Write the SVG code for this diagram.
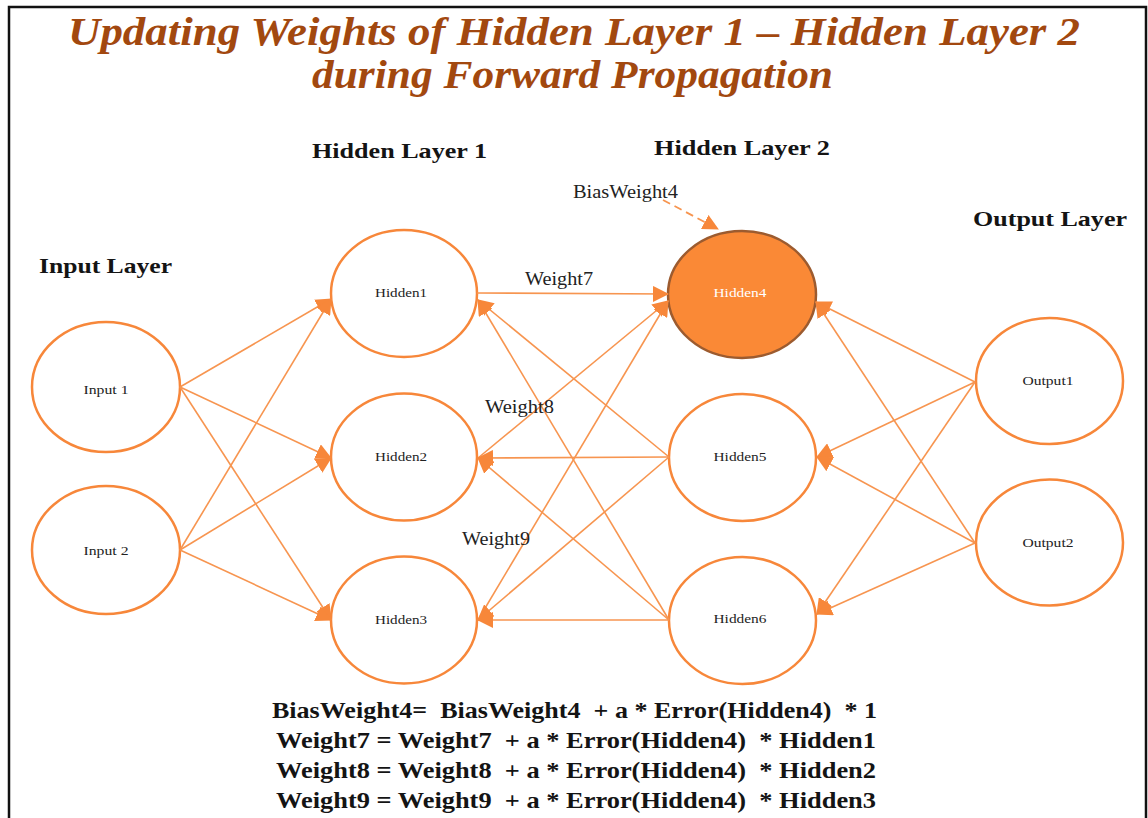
<svg xmlns="http://www.w3.org/2000/svg" width="1148" height="818" viewBox="0 0 1148 818">
<style>
.title{font-family:"Liberation Serif","DejaVu Serif",serif;font-weight:bold;font-style:italic;font-size:41px;fill:#A2480F}
.head{font-family:"Liberation Serif","DejaVu Serif",serif;font-weight:bold;font-size:22px;fill:#141414}
.wl{font-family:"Liberation Serif","DejaVu Serif",serif;font-size:18px;fill:#222}
.nl{font-family:"Liberation Serif","DejaVu Serif",serif;font-size:12.5px;fill:#222;text-anchor:middle}
.eq{font-family:"Liberation Serif","DejaVu Serif",serif;font-weight:bold;font-size:23px;fill:#141414}
.node{fill:#fff;stroke:#F7873A;stroke-width:2.5}
.hot{fill:#FA8936;stroke:#9C5B2F;stroke-width:2.5}
.c{stroke:#F79550;stroke-width:1.6;fill:none;marker-end:url(#ah)}
.d{stroke:#F79550;stroke-width:1.8;fill:none;stroke-dasharray:8 5;marker-end:url(#ah2)}
</style>
<defs>
<marker id="ah" markerUnits="userSpaceOnUse" markerWidth="16" markerHeight="16" refX="15" refY="8" orient="auto">
<path d="M0,0 L16,8 L0,16 z" fill="#F7873A"/>
</marker>
<marker id="ah2" markerUnits="userSpaceOnUse" markerWidth="16" markerHeight="16" refX="15" refY="8" orient="auto">
<path d="M0,0 L16,8 L0,16 z" fill="#F7873A"/>
</marker>
</defs>
<rect x="0" y="0" width="1148" height="818" fill="#fff"/>
<path d="M9,818 V7 H1146 V818" fill="none" stroke="#111" stroke-width="2.5"/>

<g id="title">
<text class="title" x="68" y="45" textLength="1012" lengthAdjust="spacingAndGlyphs">Updating Weights of Hidden Layer 1 – Hidden Layer 2</text>
<text class="title" x="312" y="88" textLength="521" lengthAdjust="spacingAndGlyphs">during Forward Propagation</text>
</g>

<g id="layer-labels">
<text class="head" x="39" y="273" textLength="133" lengthAdjust="spacingAndGlyphs">Input Layer</text>
<text class="head" x="312" y="158" textLength="175" lengthAdjust="spacingAndGlyphs">Hidden Layer 1</text>
<text class="head" x="654" y="155" textLength="176" lengthAdjust="spacingAndGlyphs">Hidden Layer 2</text>
<text class="head" x="973" y="226" textLength="154" lengthAdjust="spacingAndGlyphs">Output Layer</text>
</g>

<g id="input1"><ellipse class="node" cx="106" cy="387" rx="74" ry="65"/><text class="nl" x="106" y="394" textLength="45" lengthAdjust="spacingAndGlyphs">Input 1</text></g>
<g id="input2"><ellipse class="node" cx="106" cy="550" rx="74" ry="64"/><text class="nl" x="106" y="555" textLength="45" lengthAdjust="spacingAndGlyphs">Input 2</text></g>
<g id="hidden1"><ellipse class="node" cx="404" cy="293.5" rx="73" ry="63.5"/><text class="nl" x="401" y="297" textLength="52" lengthAdjust="spacingAndGlyphs">Hidden1</text></g>
<g id="hidden2"><ellipse class="node" cx="404" cy="457" rx="73" ry="63.5"/><text class="nl" x="401" y="461" textLength="52" lengthAdjust="spacingAndGlyphs">Hidden2</text></g>
<g id="hidden3"><ellipse class="node" cx="404" cy="620" rx="73" ry="63.5"/><text class="nl" x="401" y="624" textLength="52" lengthAdjust="spacingAndGlyphs">Hidden3</text></g>
<g id="hidden4"><ellipse class="hot" cx="742" cy="294.5" rx="74" ry="63.5"/><text class="nl" x="740" y="297" textLength="53" lengthAdjust="spacingAndGlyphs" style="fill:#fff">Hidden4</text></g>
<g id="hidden5"><ellipse class="node" cx="742.5" cy="457.5" rx="73.5" ry="63.5"/><text class="nl" x="740" y="461" textLength="53" lengthAdjust="spacingAndGlyphs">Hidden5</text></g>
<g id="hidden6"><ellipse class="node" cx="742.5" cy="620.5" rx="73.5" ry="63.5"/><text class="nl" x="740" y="623" textLength="53" lengthAdjust="spacingAndGlyphs">Hidden6</text></g>
<g id="output1"><ellipse class="node" cx="1049.5" cy="381" rx="73.5" ry="63"/><text class="nl" x="1048" y="385" textLength="51" lengthAdjust="spacingAndGlyphs">Output1</text></g>
<g id="output2"><ellipse class="node" cx="1049.5" cy="542.5" rx="73.5" ry="63"/><text class="nl" x="1048" y="547" textLength="51" lengthAdjust="spacingAndGlyphs">Output2</text></g>

<g id="connectors">
<line class="c" x1="180" y1="387" x2="331" y2="299"/>
<line class="c" x1="180" y1="387" x2="331" y2="458"/>
<line class="c" x1="180" y1="387" x2="331" y2="620"/>
<line class="c" x1="180" y1="550" x2="331" y2="299"/>
<line class="c" x1="180" y1="550" x2="331" y2="458"/>
<line class="c" x1="180" y1="550" x2="331" y2="620"/>

<line class="c" x1="477" y1="293" x2="668" y2="294"/>
<line class="c" x1="478" y1="458" x2="668" y2="301"/>
<line class="c" x1="478" y1="620" x2="668" y2="301"/>

<line class="c" x1="669" y1="457" x2="478" y2="300"/>
<line class="c" x1="669" y1="457" x2="478" y2="458"/>
<line class="c" x1="669" y1="457" x2="478" y2="620"/>
<line class="c" x1="669" y1="620" x2="478" y2="300"/>
<line class="c" x1="669" y1="620" x2="478" y2="458"/>
<line class="c" x1="669" y1="620" x2="478" y2="620"/>

<line class="c" x1="975" y1="382" x2="816" y2="302"/>
<line class="c" x1="975" y1="382" x2="817" y2="457"/>
<line class="c" x1="975" y1="382" x2="817" y2="614"/>
<line class="c" x1="975" y1="543" x2="816" y2="302"/>
<line class="c" x1="975" y1="543" x2="817" y2="457"/>
<line class="c" x1="975" y1="543" x2="817" y2="614"/>

<line class="d" x1="663" y1="200" x2="718" y2="229"/>
</g>

<g id="connector-labels">
<text class="wl" x="573" y="198" textLength="105" lengthAdjust="spacingAndGlyphs">BiasWeight4</text>
<text class="wl" x="525" y="285" textLength="68" lengthAdjust="spacingAndGlyphs">Weight7</text>
<text class="wl" x="485" y="413" textLength="69" lengthAdjust="spacingAndGlyphs">Weight8</text>
<text class="wl" x="462" y="545" textLength="68" lengthAdjust="spacingAndGlyphs">Weight9</text>
</g>

<g id="equations">
<text class="eq" x="272" y="718" textLength="605" lengthAdjust="spacingAndGlyphs" xml:space="preserve">BiasWeight4=  BiasWeight4  + a * Error(Hidden4)  * 1</text>
<text class="eq" x="276" y="748" textLength="600" lengthAdjust="spacingAndGlyphs" xml:space="preserve">Weight7 = Weight7  + a * Error(Hidden4)  * Hidden1</text>
<text class="eq" x="276" y="778" textLength="600" lengthAdjust="spacingAndGlyphs" xml:space="preserve">Weight8 = Weight8  + a * Error(Hidden4)  * Hidden2</text>
<text class="eq" x="276" y="808" textLength="600" lengthAdjust="spacingAndGlyphs" xml:space="preserve">Weight9 = Weight9  + a * Error(Hidden4)  * Hidden3</text>
</g>
</svg>
